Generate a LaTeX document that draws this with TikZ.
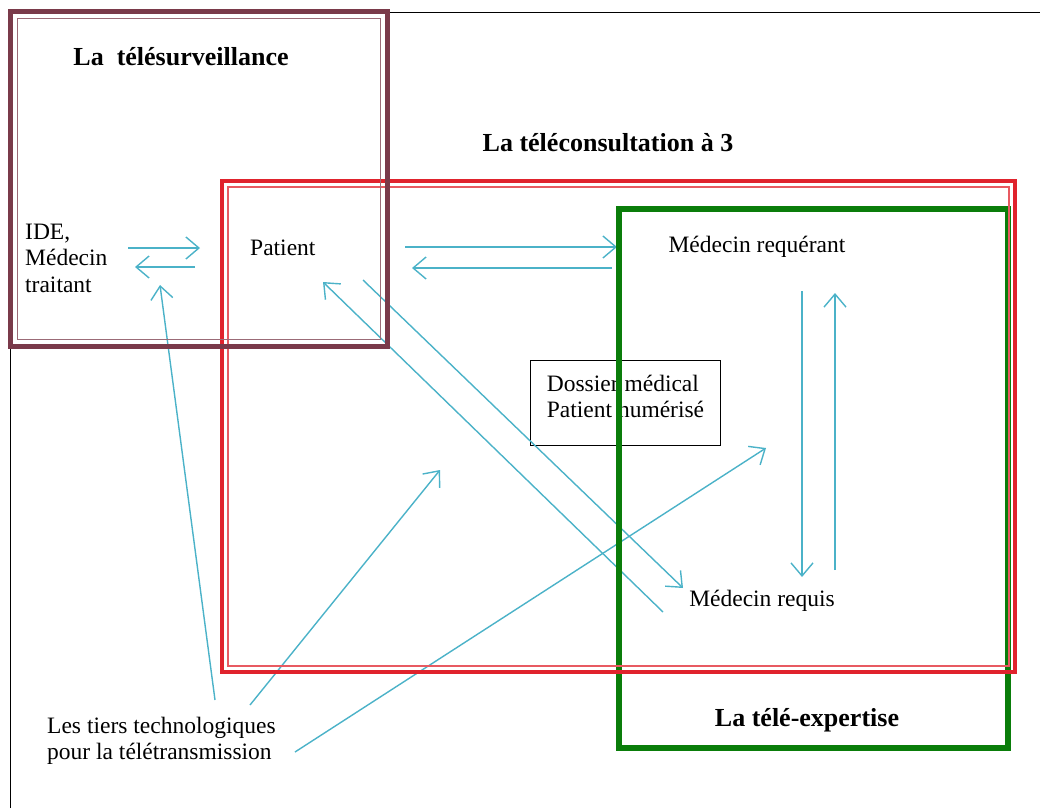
\documentclass[tikz,border=0pt]{standalone}
\usepackage{fontspec}
\setmainfont{Liberation Serif}
\usetikzlibrary{arrows.meta}
\definecolor{survcol}{RGB}{122,58,74}
\definecolor{consultcol}{RGB}{224,35,45}
\definecolor{expertcol}{RGB}{10,125,10}
\definecolor{linkcol}{RGB}{75,178,200}

\begin{document}
\begin{tikzpicture}[x=1pt, y=-1pt,
    txt/.style={font=\fontsize{23.5}{26.5}\selectfont, align=left, inner sep=0pt},
    title/.style={font=\fontsize{26}{30}\selectfont\bfseries, inner sep=0pt},
    link/.style={linkcol, line width=1.4pt, -{Straight Barb[length=13pt, width=22pt]}}]
  \useasboundingbox (0,0) rectangle (1040,808);
  \draw[line width=0.8pt] (10,808) -- (10,12) -- (1040,12);

  % texts
  \node[title] (surv) at (181,57) {La\ \ télésurveillance};
  \node[title] (consult) at (608,143) {La téléconsultation à 3};
  \node[title] (expert) at (807,720) {La télé-expertise};
  \node[txt, anchor=west] (ide) at (25,258) {IDE,\\Médecin\\traitant};
  \node[txt, anchor=west] (patient) at (250,248) {Patient};
  \node[txt] (requerant) at (757,247) {Médecin requérant};
  \node[txt] (requis) at (762,601) {Médecin requis};
  \node[txt, anchor=west] (tiers) at (47,741) {Les tiers technologiques\\pour la télétransmission};
  \node[txt, draw, line width=1pt, anchor=north west, minimum width=190pt, minimum height=85pt] (dossier) at (530,360) {Dossier médical\\Patient numérisé\\[-13pt]\mbox{}};

  % free ends of the links
  \coordinate (ide1) at (128,248);   \coordinate (pat1) at (200,248);
  \coordinate (pat2) at (195,267);   \coordinate (ide2) at (135,267);
  \coordinate (pat3) at (405,247);   \coordinate (req3) at (617,247);
  \coordinate (req4) at (612,268);   \coordinate (pat4) at (412,268);
  \coordinate (req5) at (802,291);   \coordinate (rqs5) at (802,577);
  \coordinate (rqs6) at (835,570);   \coordinate (req6) at (835,293);
  \coordinate (pat7) at (363,280);   \coordinate (rqs7) at (683,588);
  \coordinate (rqs8) at (663,612);   \coordinate (pat8) at (323,282);
  \coordinate (tie9) at (215,700);   \coordinate (ide9) at (160,285);
  \coordinate (tie10) at (250,705);  \coordinate (mid10) at (440,470);
  \coordinate (tie11) at (295,752);  \coordinate (mid11) at (766,448);

  \draw[link] (ide1) -- (pat1);
  \draw[link] (pat2) -- (ide2);
  \draw[link] (pat3) -- (req3);
  \draw[link] (req4) -- (pat4);
  \draw[link] (req5) -- (rqs5);
  \draw[link] (rqs6) -- (req6);
  \draw[link] (pat7) -- (rqs7);
  \draw[link] (rqs8) -- (pat8);
  \draw[link] (tie9) -- (ide9);
  \draw[link] (tie10) -- (mid10);
  \draw[link] (tie11) -- (mid11);

  % frames
  \draw[expertcol, line width=5.5pt] (619,209) rectangle (1008,748);
  \draw[consultcol, line width=4.5pt] (222,181) rectangle (1015,672);
  \draw[consultcol!75, line width=1.2pt] (228,187) rectangle (1009,666);
  \draw[survcol, line width=5pt] (10,12) rectangle (387,346);
  \draw[survcol!75, line width=1pt] (17,19) rectangle (380,339);
\end{tikzpicture}
\end{document}
